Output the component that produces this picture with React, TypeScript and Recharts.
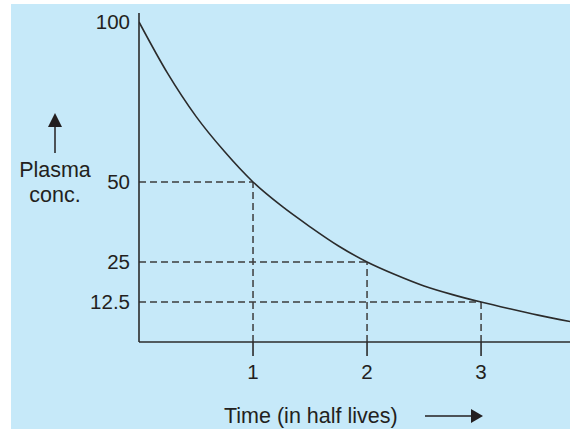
import { LineChart, Line, XAxis, YAxis, ReferenceLine } from 'recharts'

// time in half lives
const times = [0, 0.25, 0.5, 0.75, 1, 1.25, 1.5, 1.75, 2, 2.25, 2.5, 2.75, 3, 3.25, 3.5, 3.78]
const conc = [100, 84, 70.5, 59.5, 50, 42.5, 36, 30, 25, 21, 17.5, 14.8, 12.5, 10.4, 8.4, 6.4]

const halfLives = [1, 2, 3]
const halfValues = [50, 25, 12.5]

const xTicks = [1, 2, 3]
const yTicks = [12.5, 25, 50, 100]

const data = times.map((t, i) => ({ t, c: conc[i] }))

const ink = '#231f20'
const font = '"Liberation Sans", Arial, sans-serif'

export default function App() {
  return (
    <div style={{ position: 'absolute', left: 0, top: 0, width: 570, height: 429, background: '#fff', fontFamily: font }}>
      <div style={{ position: 'absolute', left: 11, top: 4, width: 559, height: 425, background: '#c6e9f9' }} />
      <div style={{ position: 'absolute', left: 0, top: 0 }}>
        <LineChart width={570} height={429} data={data} margin={{ top: 13, right: 0, bottom: 27, left: 11 }}>
          <XAxis
            dataKey="t"
            type="number"
            domain={[0, 3.78]}
            ticks={xTicks}
            interval={0}
            height={60}
            tickSize={14}
            tickMargin={8}
            stroke="#2b2b2b"
            strokeWidth={1.6}
            tick={{ fill: ink, fontSize: 20.5, fontFamily: font }}
            allowDataOverflow
          />
          <YAxis
            type="number"
            domain={[0, 102.8]}
            ticks={yTicks}
            interval={0}
            width={128}
            tickLine={false}
            tickSize={0}
            tickMargin={9}
            stroke="#2b2b2b"
            strokeWidth={1.6}
            tick={{ fill: ink, fontSize: 20.5, fontFamily: font }}
            allowDataOverflow
          />
          {halfLives.map((h, i) => (
            <ReferenceLine
              key={`h-${h}`}
              segment={[{ x: 0, y: halfValues[i] }, { x: h, y: halfValues[i] }]}
              stroke="#3d3d3d"
              strokeWidth={1.5}
              strokeDasharray="7 4"
            />
          ))}
          {halfLives.map((h, i) => (
            <ReferenceLine
              key={`v-${h}`}
              segment={[{ x: h, y: 0 }, { x: h, y: halfValues[i] }]}
              stroke="#3d3d3d"
              strokeWidth={1.5}
              strokeDasharray="7 4"
            />
          ))}
          <Line
            type="monotone"
            dataKey="c"
            stroke="#2b2b2b"
            strokeWidth={1.6}
            dot={false}
            isAnimationActive={false}
          />
        </LineChart>
      </div>
      <svg width={570} height={429} style={{ position: 'absolute', left: 0, top: 0 }}>
        <line x1={55} y1={153} x2={55} y2={124} stroke={ink} strokeWidth={1.5} />
        <polygon points="55,113 48,127 62,127" fill={ink} />
        <text x={55} y={177} textAnchor="middle" fontSize={21.5} fontFamily={font} fill={ink}>Plasma</text>
        <text x={55} y={202} textAnchor="middle" fontSize={21.5} fontFamily={font} fill={ink}>conc.</text>
        <text x={224} y={423} fontSize={21.5} fontFamily={font} fill={ink}>Time (in half lives)</text>
        <line x1={425} y1={416} x2={473} y2={416} stroke={ink} strokeWidth={1.5} />
        <polygon points="483,416 471,409 471,423" fill={ink} />
      </svg>
    </div>
  )
}
